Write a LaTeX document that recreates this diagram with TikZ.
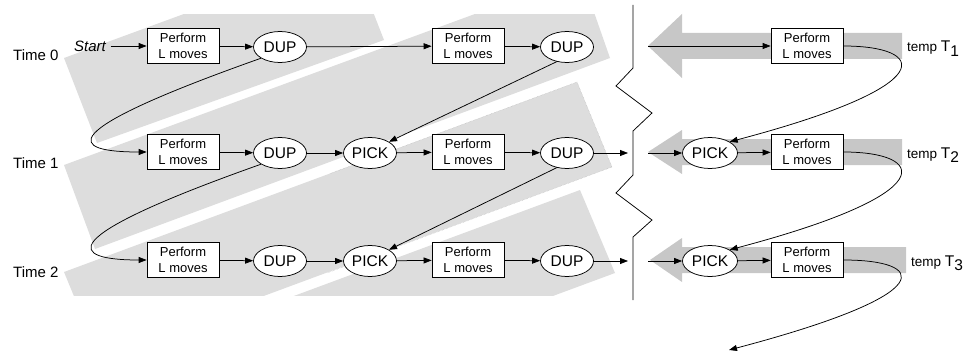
\documentclass[tikz,border=0pt]{standalone}
\usepackage{fontspec}
\setmainfont{Liberation Sans}
\usetikzlibrary{arrows.meta,shapes.geometric}

\definecolor{bandgray}{gray}{0.865}
\definecolor{flowgray}{gray}{0.78}

% label "temp T_i" with a larger T and a lowered index
\newcommand\templbl[1]{{\fontsize{13.5}{16}\selectfont temp }{\fontsize{15.5}{18}\selectfont T\raisebox{-4.3pt}{#1}}}

\tikzset{
  movebox/.style={draw, rectangle, fill=white, minimum width=72pt, minimum height=35pt,
    inner sep=0pt, align=center, font=\fontsize{13}{16}\selectfont, line width=0.75pt},
  opnode/.style={draw, ellipse, fill=white, minimum width=53pt, minimum height=31pt,
    inner sep=0pt, font=\fontsize{15.5}{18}\selectfont, line width=0.75pt},
  flow/.style={line width=0.75pt, -{Triangle[length=8pt,width=6pt]}},
  rowlabel/.style={anchor=base west, inner sep=0pt, font=\fontsize{15}{18}\selectfont},
  templabel/.style={anchor=base west, inner sep=0pt},
  band/.style={fill=bandgray, draw=none},
  bigarrow/.style={fill=flowgray, draw=none},
}

\begin{document}
\begin{tikzpicture}[x=1pt, y=-1pt]
\useasboundingbox (0,0) rectangle (966,353);

% slanted background bands
\begin{scope}
  \clip (0,15) rectangle (966,295);
  \fill[band] (64,58) -- (97,143) -- (384,40) -- (350,-47) -- cycle;
  \fill[band] (64,165) -- (95,249) -- (610,58) -- (581,-25) -- cycle;
  \fill[band] (64,272) -- (577,82) -- (612,167) -- (99,357) -- cycle;
  \fill[band] (580,190) -- (615,273) -- (102,463) -- (67,380) -- cycle;
  \draw[gray!60, densely dotted, line width=0.4pt]
    (330,173.6) -- (577,82) -- (612,167) -- (327,273);
\end{scope}

% wide arrows on the right
\fill[bigarrow] (648,46) -- (682,14) -- (682,33) -- (902,33) -- (902,59) -- (682,59) -- (682,78) -- cycle;
\fill[bigarrow] (648,152) -- (682,130) -- (682,139) -- (902,139) -- (902,165) -- (682,165) -- (682,174) -- cycle;
\fill[bigarrow] (650,260) -- (682,238) -- (682,247) -- (906,247) -- (906,273) -- (682,273) -- (682,282) -- cycle;

% break line
\draw[line width=0.75pt] (633,5) -- (633,68) -- (616,86) -- (652,113) -- (633,131) -- (633,175)
  -- (616,193) -- (652,220) -- (633,237) -- (633,300);

% row labels
\node[rowlabel] (time0) at (13,60) {Time 0};
\node[rowlabel] (time1) at (13,168) {Time 1};
\node[rowlabel] (time2) at (13,277) {Time 2};
\node[inner xsep=4.5pt, inner ysep=0pt, font=\fontsize{15}{18}\selectfont\itshape] (start) at (90,46) {Start};

% row 0
\node[movebox] (p00) at (183,46) {Perform\\L moves};
\node[opnode]  (d00) at (280,47) {DUP};
\node[movebox] (p01) at (468,46) {Perform\\L moves};
\node[opnode]  (d01) at (567,47) {DUP};

% row 1
\node[movebox] (p10) at (183,152) {Perform\\L moves};
\node[opnode]  (d10) at (280,153) {DUP};
\node[opnode]  (k10) at (370,153) {PICK};
\node[movebox] (p11) at (468,152) {Perform\\L moves};
\node[opnode]  (d11) at (567,153) {DUP};

% row 2
\node[movebox] (p20) at (183,260) {Perform\\L moves};
\node[opnode]  (d20) at (280,261) {DUP};
\node[opnode]  (k20) at (370,261) {PICK};
\node[movebox] (p21) at (468,260) {Perform\\L moves};
\node[opnode]  (d21) at (567,261) {DUP};

% right part
\node[movebox] (pr0) at (807,46) {Perform\\L moves};
\node[opnode, minimum width=55pt] (kr1) at (710,153) {PICK};
\node[movebox] (pr1) at (807,152) {Perform\\L moves};
\node[opnode, minimum width=55pt] (kr2) at (710,261) {PICK};
\node[movebox] (pr2) at (807,260) {Perform\\L moves};

\node[templabel] (t1) at (907,52) {\templbl{1}};
\node[templabel] (t2) at (907,158) {\templbl{2}};
\node[templabel] (t3) at (911,266) {\templbl{3}};

\coordinate (e1) at (628,153);
\coordinate (e2) at (628,261);
\coordinate (s0) at (648,46);
\coordinate (s1) at (648,153);
\coordinate (s2) at (648,261);
\coordinate (tail) at (729,350);

% connectors, left part
\draw[flow] (start) -- (p00);
\draw[flow] (p00) -- (d00);
\draw[flow] (d00) -- (p01);
\draw[flow] (p01) -- (d01);

\draw[flow] (p10) -- (d10);
\draw[flow] (d10) -- (k10);
\draw[flow] (k10) -- (p11);
\draw[flow] (p11) -- (d11);
\draw[flow] (d11) -- (e1);

\draw[flow] (p20) -- (d20);
\draw[flow] (d20) -- (k20);
\draw[flow] (k20) -- (p21);
\draw[flow] (p21) -- (d21);
\draw[flow] (d21) -- (e2);

\draw[flow] (d00.south west) .. controls +(-212,75) and +(-77,0) .. (p10.west);
\draw[flow] (d10.south west) .. controls +(-212,75) and +(-77,0) .. (p20.west);
\draw[flow] (d01.235) -- (k10.north east);
\draw[flow] (d11.235) -- (k20.north east);

% connectors, right part
\draw[flow] (s0) -- (pr0);
\draw[flow] (s1) -- (kr1);
\draw[flow] (kr1) -- (pr1);
\draw[flow] (s2) -- (kr2);
\draw[flow] (kr2) -- (pr2);

\draw[flow] (pr0.east) .. controls +(82,0) and +(216,-57) .. (kr1.north east);
\draw[flow] (pr1.east) .. controls +(82,0) and +(216,-57) .. (kr2.north east);
\draw[flow] (pr2.east) .. controls +(82,0) and +(216,-57) .. (tail);
\end{tikzpicture}
\end{document}
